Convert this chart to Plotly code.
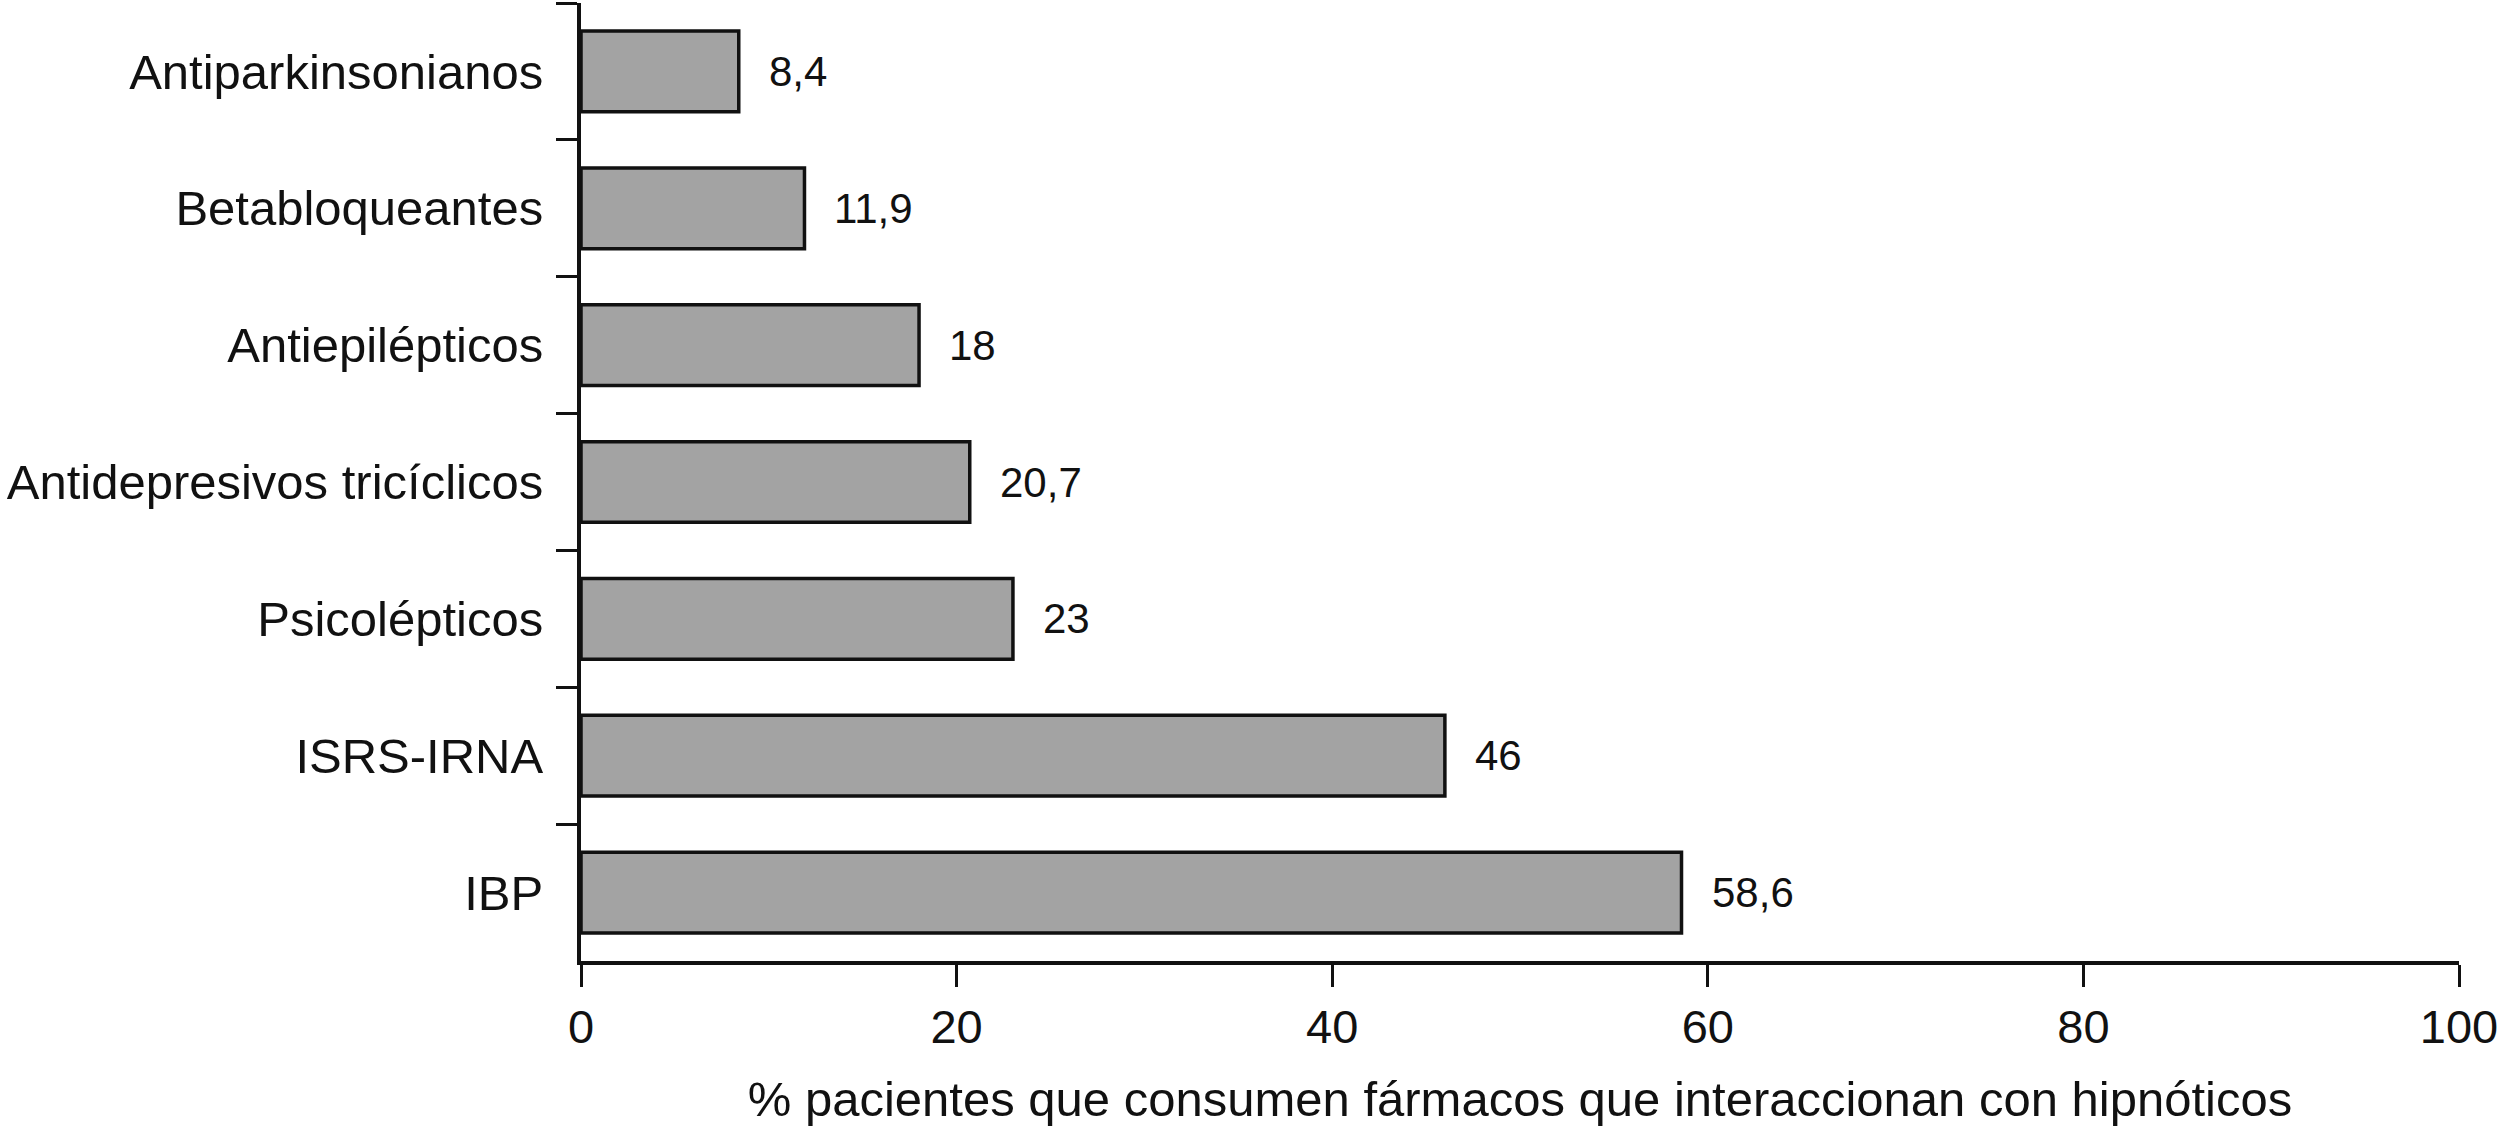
import plotly.graph_objects as go

categories = ["Antiparkinsonianos", "Betabloqueantes", "Antiepilépticos",
              "Antidepresivos tricíclicos", "Psicolépticos", "ISRS-IRNA", "IBP"]
values = [8.4, 11.9, 18, 20.7, 23, 46, 58.6]
value_labels = ["8,4", "11,9", "18", "20,7", "23", "46", "58,6"]
x_ticks = [0, 20, 40, 60, 80, 100]

FONT = "Liberation Sans, Arial, sans-serif"

fig = go.Figure()
fig.add_trace(go.Bar(
    x=values, y=categories, orientation="h",
    marker=dict(color="#a3a3a3", line=dict(color="#111111", width=3.5)),
    width=0.59, showlegend=False, hoverinfo="skip",
))

for v, c, t in zip(values, categories, value_labels):
    fig.add_annotation(x=v, y=c, text=t, showarrow=False, xanchor="left",
                       xshift=28, font=dict(family=FONT, size=42, color="#111111"))

fig.update_layout(
    template="none",
    width=2500, height=1136,
    margin=dict(l=581, r=41, t=3, b=175, pad=0),
    paper_bgcolor="white", plot_bgcolor="white",
    font=dict(family=FONT, color="#111111"),
    bargap=0.41,
)
fig.update_xaxes(
    range=[0, 100], tickvals=x_ticks, ticktext=[str(t) for t in x_ticks],
    automargin=False,
    showgrid=False, zeroline=False, showline=True, linecolor="#111111", linewidth=4,
    ticks="outside", ticklen=22, tickwidth=3, tickcolor="#111111",
    tickfont=dict(family=FONT, size=47, color="#111111"),
    title=dict(text="% pacientes que consumen fármacos que interaccionan con hipnóticos",
               font=dict(family=FONT, size=49, color="#111111"), standoff=30),
)
fig.update_yaxes(
    type="category", autorange="reversed", tickson="boundaries",
    automargin=False,
    showgrid=False, zeroline=False, showline=True, linecolor="#111111", linewidth=4,
    ticks="outside", ticklen=21, tickwidth=3, tickcolor="#111111",
    ticklabelstandoff=24,
    tickfont=dict(family=FONT, size=49, color="#111111"),
)

fig.write_html("out.html", config={"displayModeBar": False},
               post_script="document.body.style.margin='0';")
